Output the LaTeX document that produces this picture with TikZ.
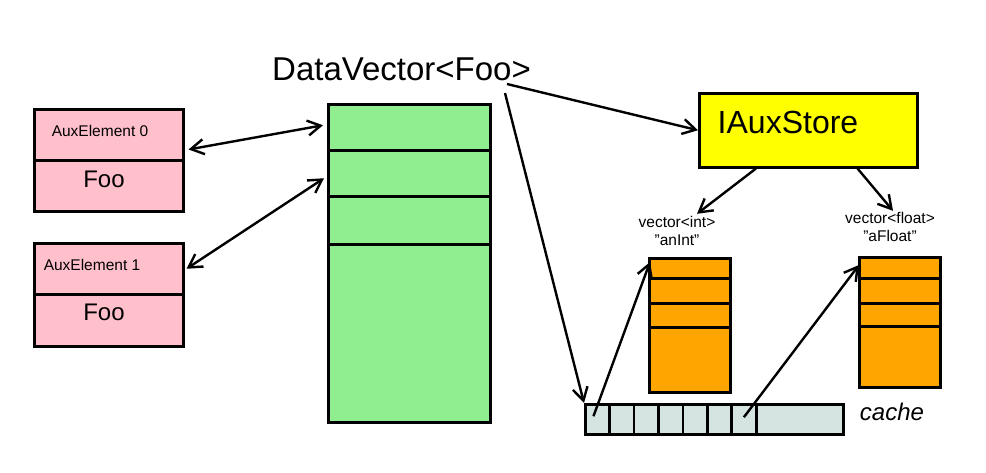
\documentclass[tikz,border=0pt]{standalone}
\usepackage{fontspec}
\setmainfont{Liberation Sans}
\usetikzlibrary{arrows.meta}
\definecolor{auxpink}{RGB}{255,192,203}
\definecolor{vecgreen}{RGB}{144,238,144}
\definecolor{storeyellow}{RGB}{255,255,0}
\definecolor{colorange}{RGB}{255,165,0}
\definecolor{cachegray}{RGB}{214,228,225}
\begin{document}
\begin{tikzpicture}[x=1pt, y=-1pt]
       \tikzset{>={Straight Barb[length=13pt,width=15pt]}}
       \tikzset{cell/.style={draw, line width=2.5pt, anchor=north west, inner sep=0pt}}
       \tikzset{link/.style={line width=2.4pt}}
       \tikzset{txt/.style={inner sep=0pt, font=\fontsize{#1}{1.2\dimexpr#1pt\relax}\selectfont}}
       \useasboundingbox (0,0) rectangle (986,472);

       \node[txt=33, anchor=base west] (dv) at (272,80) {DataVector<Foo>};

       \node[cell, fill=auxpink, minimum width=149pt, minimum height=51pt] (a0) at (33,108) {};
       \node[cell, fill=auxpink, minimum width=149pt, minimum height=51pt] (a0foo) at (33,159) {};
       \node[cell, fill=auxpink, minimum width=149pt, minimum height=51pt] (a1) at (33,242) {};
       \node[cell, fill=auxpink, minimum width=149pt, minimum height=52pt] (a1foo) at (33,293) {};
       \node[txt=15.5] (a0name) at (100,131) {AuxElement 0};
       \node[txt=15.5] (a1name) at (92,265) {AuxElement 1};
       \node[txt=24] (a0type) at (104,179) {Foo};
       \node[txt=24] (a1type) at (104,312) {Foo};

       \node[cell, fill=vecgreen, minimum width=162pt, minimum height=46pt] (g1) at (327,103) {};
       \node[cell, fill=vecgreen, minimum width=162pt, minimum height=46pt] (g2) at (327,149) {};
       \node[cell, fill=vecgreen, minimum width=162pt, minimum height=48pt] (g3) at (327,195) {};
       \node[cell, fill=vecgreen, minimum width=162pt, minimum height=178pt] (g4) at (327,243) {};

       \node[cell, fill=storeyellow, minimum width=218pt, minimum height=74pt] (store) at (698,92) {};
       \node[txt=32] (storename) at (788,122) {IAuxStore};

       \node[txt=15.5, align=center] (intname) at (677,231) {vector<int>\\\symbol{34}anInt\symbol{34}};
       \node[txt=15.5, align=center] (floatname) at (890,227) {vector<float>\\\symbol{34}aFloat\symbol{34}};

       \node[cell, fill=colorange, minimum width=81pt, minimum height=20pt] (i1) at (648,257) {};
       \node[cell, fill=colorange, minimum width=81pt, minimum height=25pt] (i2) at (648,277) {};
       \node[cell, fill=colorange, minimum width=81pt, minimum height=24pt] (i3) at (648,302) {};
       \node[cell, fill=colorange, minimum width=81pt, minimum height=65pt] (i4) at (648,326) {};

       \node[cell, fill=colorange, minimum width=81pt, minimum height=21pt] (f1) at (858,256) {};
       \node[cell, fill=colorange, minimum width=81pt, minimum height=25pt] (f2) at (858,277) {};
       \node[cell, fill=colorange, minimum width=81pt, minimum height=23pt] (f3) at (858,302) {};
       \node[cell, fill=colorange, minimum width=81pt, minimum height=61pt] (f4) at (858,325) {};

       \foreach \i in {0,...,6}
         \node[cell, fill=cachegray, minimum width=24.4pt, minimum height=30pt] (c\i) at (584+24.4*\i,403) {};
       \node[cell, fill=cachegray, minimum width=87pt, minimum height=30pt] (c7) at (755,403) {};
       \node[inner sep=0pt, font=\fontsize{24}{28}\selectfont\itshape] (cachename) at (892,412) {cache};

       \draw[link, <->] ([xshift=4pt, yshift=12pt]a0.south east) -- ([xshift=-4pt, yshift=2pt]g1.west);
       \draw[link, <->] ([xshift=2pt]a1.east) -- ([xshift=-3pt, yshift=-5pt]g2.west);
       \draw[link, ->] ([xshift=235pt, yshift=-4pt]dv.base west) -- (store.west);
       \draw[link, ->] ([xshift=233pt, yshift=-13pt]dv.base west) -- (c0.north west);
       \draw[link, ->] ([xshift=58pt]store.south west) -- ([xshift=20pt, yshift=2pt]intname.north);
       \draw[link, ->] ([xshift=-61pt]store.south east) -- ([xshift=3pt, yshift=1pt]floatname.north);
       \draw[link, ->] ([xshift=-4pt, yshift=3pt]c0.center) -- ([xshift=2pt, yshift=-5pt]i1.north west);
       \draw[link, ->] ([yshift=2pt]c6.center) -- ([xshift=1pt, yshift=-9pt]f1.north west);
   \end{tikzpicture}
\end{document}
